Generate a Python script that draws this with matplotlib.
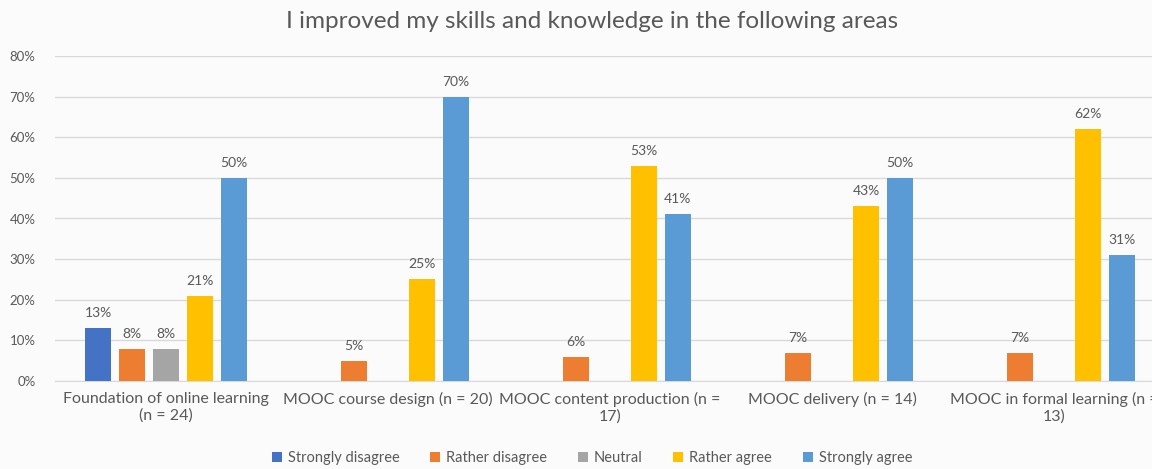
import matplotlib
matplotlib.use("Agg")
import matplotlib.pyplot as plt
import numpy as np

plt.rcParams['font.family'] = ['Lato', 'DejaVu Sans']

categories = ["Foundation of online learning\n(n = 24)",
              "MOOC course design (n = 20)",
              "MOOC content production (n =\n17)",
              "MOOC delivery (n = 14)",
              "MOOC in formal learning (n =\n13)"]
series_names = ["Strongly disagree", "Rather disagree", "Neutral", "Rather agree", "Strongly agree"]
strongly_disagree = [13, 0, 0, 0, 0]
rather_disagree = [8, 5, 6, 7, 7]
neutral = [8, 0, 0, 0, 0]
rather_agree = [21, 25, 53, 43, 62]
strongly_agree = [50, 70, 41, 50, 31]
series_values = [strongly_disagree, rather_disagree, neutral, rather_agree, strongly_agree]
colors = ["#4472C4", "#ED7D31", "#A5A5A5", "#FFC000", "#5B9BD5"]
yticks = [0, 10, 20, 30, 40, 50, 60, 70, 80]

txt = "#595959"
fig = plt.figure(figsize=(11.52, 4.69), dpi=100, facecolor="#fbfbfb")
ax = fig.add_axes([55/1152, 88/469, 1110/1152, 325/469])
ax.set_facecolor("#fbfbfb")

x = np.arange(len(categories))
width = 0.117
step = 0.153
for i, (name, vals, c) in enumerate(zip(series_names, series_values, colors)):
    pos = x + (i - 2) * step
    bars = ax.bar(pos, vals, width, color=c, label=name, zorder=3)
    for b, v in zip(bars, vals):
        if v > 0:
            ax.text(b.get_x() + b.get_width()/2, v + 2.2, f"{v}%", ha="center", va="bottom",
                    fontsize=10, color=txt)

ax.set_xlim(-0.5, len(categories) - 0.5)
ax.set_ylim(0, 80)
ax.set_yticks(yticks)
ax.set_yticklabels([f"{t}%" for t in yticks], fontsize=9.5, color=txt)
ax.set_xticks(x)
ax.set_xticklabels(categories, fontsize=11.5, color=txt, linespacing=1.2)
ax.tick_params(axis="both", length=0)
ax.tick_params(axis="y", pad=14)
ax.tick_params(axis="x", pad=8)
ax.grid(axis="y", color="#d9d9d9", linewidth=1, zorder=0)
for s in ["top", "right", "left"]:
    ax.spines[s].set_visible(False)
ax.spines["bottom"].set_color("#d9d9d9")

fig.text(592/1152, 1 - 22/469, "I improved my skills and knowledge in the following areas",
         ha="center", va="center", fontsize=17.5, color=txt)

fig.legend(loc="center", bbox_to_anchor=(592/1152, 1 - 458/469), ncol=5, frameon=False,
           fontsize=10.5, handlelength=0.7, handleheight=0.7, handletextpad=0.4,
           columnspacing=2.1, labelcolor=txt)

fig.savefig("out.png", dpi=100, facecolor=fig.get_facecolor())
